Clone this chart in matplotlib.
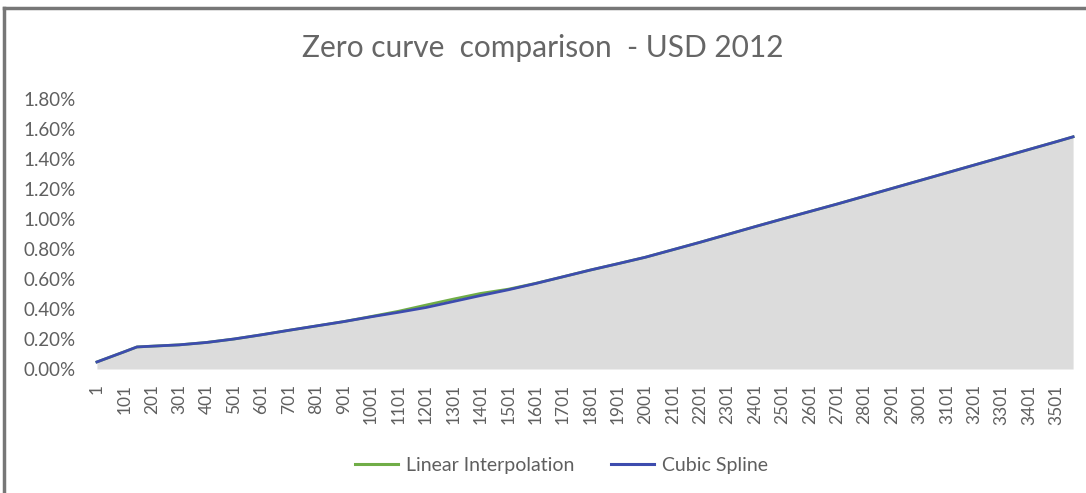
import matplotlib.pyplot as plt
from matplotlib.lines import Line2D

plt.rcParams['font.family'] = ['Lato', 'DejaVu Sans']

# tenor in days and zero rates (%)
days = [1, 101, 147, 201, 301, 401, 501, 601, 701, 801, 901, 1001, 1101,
        1201, 1301, 1401, 1501, 1601, 1701, 1801, 1901, 2001, 2101, 2201,
        2301, 2401, 2501, 2601, 2701, 2801, 2901, 3001, 3101, 3201, 3301,
        3401, 3501, 3561]
cubic = [0.047, 0.115, 0.147, 0.152, 0.161, 0.177, 0.200, 0.228, 0.258,
         0.287, 0.316, 0.348, 0.378, 0.410, 0.450, 0.490, 0.528, 0.570,
         0.615, 0.660, 0.702, 0.745, 0.795, 0.845, 0.897, 0.949, 1.000,
         1.050, 1.100, 1.152, 1.204, 1.256, 1.308, 1.360, 1.412, 1.464,
         1.516, 1.548]
linear = [0.047, 0.115, 0.147, 0.152, 0.161, 0.177, 0.200, 0.228, 0.258,
          0.287, 0.316, 0.350, 0.385, 0.426, 0.466, 0.504, 0.532, 0.571,
          0.615, 0.660, 0.702, 0.745, 0.795, 0.845, 0.897, 0.949, 1.000,
          1.050, 1.100, 1.152, 1.204, 1.256, 1.308, 1.360, 1.412, 1.464,
          1.516, 1.548]
xticks = list(range(1, 3502, 100))
yticks = [0.0, 0.2, 0.4, 0.6, 0.8, 1.0, 1.2, 1.4, 1.6, 1.8]

green = '#70ad47'
blue = '#3d4cae'
txt = '#5f5f5f'

fig = plt.figure(figsize=(10.86, 4.93), dpi=100)
fig.patch.set_facecolor('white')
ax = fig.add_axes([95 / 1086, 1 - 369 / 493, 980 / 1086, 270 / 493])

ax.fill_between(days, cubic, 0, color='#dcdcdc', lw=0)
ax.plot(days, linear, color=green, lw=2.0)
ax.plot(days, cubic, color=blue, lw=2.0)

ax.set_xlim(-6, 3568)
ax.set_ylim(0, 1.8)
ax.set_xticks(xticks)
ax.set_xticklabels([str(t) for t in xticks], rotation=90, fontsize=12.5,
                   color=txt)
ax.set_yticks(yticks)
ax.set_yticklabels([f'{v:.2f}%' for v in yticks], fontsize=13.5, color=txt)
ax.tick_params(axis='x', length=0, pad=11)
ax.tick_params(axis='y', length=0, pad=14)
for s in ax.spines.values():
    s.set_visible(False)

fig.text(0.5, 1 - 48 / 493, 'Zero curve  comparison  - USD 2012',
         ha='center', va='center', fontsize=21.5, color='#666666')

handles = [Line2D([], [], color=green, lw=2.2),
           Line2D([], [], color=blue, lw=2.2)]
fig.legend(handles, ['Linear Interpolation', 'Cubic Spline'],
           loc='center', bbox_to_anchor=(0.517, 1 - 465 / 493), ncol=2,
           frameon=False, fontsize=14, labelcolor=txt, handlelength=2.2,
           columnspacing=1.9, handletextpad=0.4)

# chart frame: top and left edges only
fig.add_artist(Line2D([4 / 1086, 1], [1 - 8 / 493, 1 - 8 / 493],
                      color='#777777', lw=2.5, transform=fig.transFigure))
fig.add_artist(Line2D([4 / 1086, 4 / 1086], [0, 1 - 8 / 493],
                      color='#777777', lw=2.5, transform=fig.transFigure))

fig.savefig('out.png', dpi=100)
